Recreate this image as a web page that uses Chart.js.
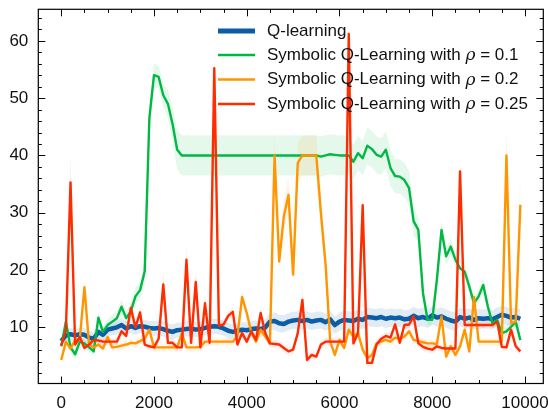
<!DOCTYPE html>
<html>
<head>
<meta charset="utf-8">
<script src="https://cdn.jsdelivr.net/npm/chart.js@4.4.1/dist/chart.umd.min.js"></script>
<style>
  html, body { margin: 0; padding: 0; background: #fff; }
  #wrap { width: 548px; height: 408px; }
</style>
</head>
<body>
<div id="wrap"><canvas id="chart" width="548" height="408"></canvas></div>
<script>
// Episodes on the x axis, one sample every 100
const steps = Array.from({ length: 100 }, (_, i) => i * 100);

const xTicks = [0, 2000, 4000, 6000, 8000, 10000];
const yTicks = [10, 20, 30, 40, 50, 60];

const seriesNames = [
    'Q-learning',
    'Symbolic Q-Learning with ',
    'Symbolic Q-Learning with ',
    'Symbolic Q-Learning with '
];
const rhoValues = ['', '0.1', '0.2', '0.25'];

// Q-learning
const qLearning = [
    7.6, 8.6, 8.8, 8.6, 8.8, 8.7, 8.2, 8.0, 9.2, 8.7,
    9.6, 9.8, 10.0, 10.4, 9.8, 10.2, 9.9, 10.2, 10.1, 9.9,
    9.8, 9.9, 9.7, 9.4, 9.2, 9.5, 9.6, 9.7, 9.8, 9.6,
    9.7, 9.9, 10.1, 10.2, 10.1, 9.8, 9.4, 9.2, 9.4, 9.6,
    9.5, 9.7, 9.8, 9.7, 10.0, 11.0, 11.1, 10.7, 10.6, 11.0,
    11.2, 11.3, 11.1, 11.3, 11.0, 11.2, 11.3, 10.9, 11.4, 10.4,
    11.0, 11.3, 11.2, 11.1, 11.5, 11.3, 11.8, 11.7, 11.6, 11.8,
    11.5, 11.7, 11.6, 11.7, 11.4, 11.5, 12.0, 11.6, 11.8, 11.5,
    12.1, 11.7, 11.9, 11.5, 11.2, 11.0, 11.8, 11.5, 11.7, 11.3,
    11.6, 11.5, 11.6, 11.4, 11.8, 12.2, 12.0, 11.7, 11.8, 11.5
];
const qLearningSpread = [
    1.0, 1.0, 1.1, 1.1, 1.1, 1.2, 1.2, 1.2, 1.2, 1.2,
    1.2, 1.2, 1.2, 1.2, 1.2, 1.2, 1.2, 1.2, 1.2, 1.2,
    1.3, 1.3, 1.3, 1.3, 1.3, 1.3, 1.3, 1.3, 1.3, 1.3,
    1.3, 1.3, 1.3, 1.3, 1.3, 1.3, 1.3, 1.3, 1.3, 1.3,
    1.4, 1.4, 1.4, 1.4, 1.4, 1.5, 1.5, 1.5, 1.5, 1.5,
    1.5, 1.5, 1.5, 1.5, 1.5, 1.5, 1.5, 1.5, 1.5, 1.5,
    1.6, 1.6, 1.6, 1.6, 1.6, 1.6, 1.6, 1.6, 1.6, 1.6,
    1.6, 1.6, 1.6, 1.6, 1.6, 1.6, 1.6, 1.6, 1.6, 1.6,
    1.6, 1.6, 1.6, 1.6, 1.6, 1.6, 1.6, 1.6, 1.6, 1.6,
    1.6, 1.6, 1.6, 1.6, 1.6, 1.6, 1.6, 1.6, 1.6, 1.6
];

// Symbolic, rho = 0.1
const symbolic01 = [
    6.7, 11.0, 6.5, 5.3, 7.5, 7.2, 6.5, 5.8, 11.7, 9.2,
    10.4, 11.0, 11.6, 13.6, 11.6, 12.8, 15.4, 16.5, 19.8, 46.5,
    54.0, 53.7, 50.5, 49.0, 45.5, 41.0, 40.0, 40.0, 40.0, 40.0,
    40.0, 40.0, 40.0, 40.0, 40.0, 40.0, 40.0, 40.0, 40.0, 40.0,
    40.0, 40.0, 40.0, 40.0, 40.0, 40.0, 40.0, 40.0, 40.0, 40.0,
    40.0, 40.0, 40.0, 40.0, 40.0, 40.0, 39.8, 40.0, 40.2, 40.1,
    40.0, 40.0, 40.0, 38.9, 40.4, 39.5, 41.7, 41.1, 40.1, 39.8,
    41.0, 37.8, 36.4, 36.3, 35.7, 34.3, 28.5, 27.0, 16.0, 11.3,
    11.3, 18.3, 27.0, 22.4, 24.1, 21.8, 20.3, 19.7, 17.1, 14.2,
    15.4, 17.4, 13.6, 10.7, 11.3, 9.0, 9.3, 10.1, 11.0, 7.8
];
const symbolic01Spread = [
    0.8, 1.5, 1.0, 1.0, 0.8, 0.8, 0.8, 0.8, 1.0, 1.0,
    1.0, 1.2, 1.2, 1.2, 1.2, 1.5, 1.5, 1.5, 2.0, 2.5,
    2.0, 2.0, 2.0, 2.5, 3.0, 3.5, 3.5, 3.5, 3.5, 3.5,
    3.5, 3.5, 3.5, 3.5, 3.5, 3.5, 3.5, 3.5, 3.5, 3.5,
    3.5, 3.5, 3.5, 3.5, 3.5, 3.5, 3.5, 3.5, 3.5, 3.5,
    3.5, 3.5, 3.5, 3.5, 3.5, 3.5, 3.5, 3.5, 3.5, 3.5,
    3.5, 3.5, 3.0, 3.0, 3.0, 3.0, 3.2, 3.2, 3.2, 3.2,
    3.2, 3.2, 3.0, 3.0, 3.0, 3.0, 2.5, 2.0, 1.5, 1.0,
    1.0, 1.5, 1.5, 1.5, 1.5, 1.2, 1.2, 1.2, 1.2, 1.2,
    1.2, 1.2, 1.2, 1.0, 1.0, 1.0, 1.0, 1.0, 1.0, 1.0
];

// Symbolic, rho = 0.2
const symbolic02 = [
    4.3, 7.5, 6.3, 7.8, 8.0, 17.0, 7.0, 6.5, 7.0, 6.3,
    8.3, 6.5, 6.6, 6.8, 7.0, 7.3, 7.2, 7.6, 8.0, 9.6,
    6.5, 6.5, 6.5, 6.5, 6.5, 6.5, 9.0, 6.5, 6.5, 6.5,
    6.6, 7.5, 7.5, 7.5, 7.5, 7.5, 7.5, 7.5, 8.5, 15.3,
    12.5, 9.1, 7.5, 9.6, 8.4, 7.2, 40.0, 21.5, 29.4, 33.1,
    19.2, 38.7, 40.0, 40.0, 40.0, 40.0, 29.9, 21.0, 7.5, 5.2,
    7.8, 6.4, 9.6, 8.4, 9.0, 6.1, 4.6, 5.2, 7.2, 7.5,
    7.8, 7.5, 8.2, 8.0, 8.4, 9.3, 7.8, 7.6, 7.4, 7.2,
    7.2, 7.1, 11.9, 4.9, 6.7, 5.2, 6.7, 9.6, 5.8, 15.3,
    7.5, 7.5, 7.5, 7.5, 7.5, 7.5, 40.0, 10.7, 11.0, 31.4
];
const symbolic02Spread = [
    0.7, 0.7, 0.7, 0.7, 0.7, 1.5, 0.7, 0.7, 0.7, 0.7,
    0.7, 0.7, 0.7, 0.7, 0.7, 0.7, 0.7, 0.7, 0.7, 1.0,
    0.7, 0.7, 0.7, 0.7, 0.7, 0.7, 0.7, 0.7, 0.7, 0.7,
    0.7, 0.7, 0.7, 0.7, 0.7, 0.7, 0.7, 0.7, 0.7, 1.2,
    0.8, 0.7, 0.7, 0.7, 0.7, 0.7, 4.0, 1.5, 3.0, 3.0,
    1.5, 3.5, 3.5, 3.5, 3.5, 3.5, 3.0, 2.0, 0.7, 0.7,
    0.7, 0.7, 0.7, 0.7, 0.7, 0.7, 0.7, 0.7, 0.7, 0.7,
    0.7, 0.7, 0.7, 0.7, 0.7, 0.7, 0.7, 0.7, 0.7, 0.7,
    0.7, 0.7, 1.0, 0.7, 0.7, 0.7, 0.7, 0.7, 0.7, 1.5,
    0.7, 0.7, 0.7, 0.7, 0.7, 0.7, 5.0, 0.8, 0.8, 6.0
];

// Symbolic, rho = 0.25
const symbolic025 = [
    6.8, 9.5, 35.3, 7.0, 8.3, 6.4, 7.0, 7.8, 7.7, 7.5,
    7.5, 7.5, 7.5, 9.3, 8.5, 13.4, 10.0, 12.6, 7.0, 6.7,
    6.5, 8.0, 17.5, 7.3, 7.3, 6.5, 6.5, 21.8, 7.3, 17.9,
    6.5, 14.2, 7.3, 55.2, 10.3, 10.5, 12.0, 12.7, 7.0, 9.0,
    7.5, 9.3, 7.8, 12.5, 9.0, 7.2, 7.1, 7.0, 6.4, 5.8,
    6.1, 9.0, 14.8, 4.3, 5.2, 4.9, 7.0, 7.5, 7.5, 7.5,
    7.5, 7.5, 61.2, 7.2, 9.0, 31.3, 3.8, 3.8, 7.0, 8.0,
    8.5, 8.2, 10.5, 7.3, 10.4, 10.5, 11.9, 7.2, 6.6, 6.3,
    6.1, 6.7, 6.4, 6.3, 6.3, 6.3, 37.2, 10.4, 10.4, 10.4,
    10.4, 10.4, 10.4, 10.4, 11.0, 6.6, 6.5, 9.6, 6.7, 5.8
];
const symbolic025Spread = [
    0.7, 0.8, 5.0, 0.7, 0.7, 0.7, 0.7, 0.7, 0.7, 0.7,
    0.7, 0.7, 0.7, 0.7, 0.7, 1.5, 0.8, 1.2, 0.7, 0.7,
    0.7, 0.7, 2.5, 0.7, 0.7, 0.7, 0.7, 2.5, 0.7, 2.0,
    0.7, 1.5, 0.7, 3.0, 0.8, 0.8, 0.8, 0.8, 0.7, 0.7,
    0.7, 0.7, 0.7, 1.0, 0.7, 0.7, 0.7, 0.7, 0.7, 0.7,
    0.7, 0.7, 2.0, 0.7, 0.7, 0.7, 0.7, 0.7, 0.7, 0.7,
    0.7, 0.7, 2.0, 0.7, 0.7, 2.5, 0.7, 0.7, 0.7, 0.7,
    0.7, 0.7, 0.8, 0.7, 0.7, 0.7, 0.8, 0.7, 0.7, 0.7,
    0.7, 0.7, 0.7, 0.7, 0.7, 0.7, 2.5, 0.7, 0.7, 0.7,
    0.7, 0.7, 0.7, 0.7, 0.7, 0.7, 0.7, 1.0, 0.7, 0.7
];

const FONT = '"Liberation Sans", Arial, Helvetica, sans-serif';

// colours of the "science" style cycle
const lineColors = ['#0C5DA5', '#00B945', '#FF9500', '#FF2C00'];
const bandColors = [
    'rgba(12, 93, 165, 0.12)',
    'rgba(0, 185, 69, 0.10)',
    'rgba(255, 149, 0, 0.10)',
    'rgba(255, 44, 0, 0.08)'
];
const lineWidths = [4.5, 2.4, 2.4, 2.4];

function toPoints(values) {
    return values.map((v, i) => ({ x: steps[i], y: v }));
}

function bandDatasets(values, spread, color, order) {
    const lower = values.map((v, i) => ({ x: steps[i], y: v - spread[i] }));
    const upper = values.map((v, i) => ({ x: steps[i], y: v + spread[i] }));
    return [
        { data: lower, borderWidth: 0, pointRadius: 0, fill: false, order: order },
        { data: upper, borderWidth: 0, pointRadius: 0, fill: '-1', backgroundColor: color, order: order }
    ];
}

const allSeries = [qLearning, symbolic01, symbolic02, symbolic025];
const allSpreads = [qLearningSpread, symbolic01Spread, symbolic02Spread, symbolic025Spread];

const datasets = [];
// bands go behind every line
allSeries.forEach((vals, k) => {
    datasets.push(...bandDatasets(vals, allSpreads[k], bandColors[k], 20 - k));
});
// lines: red drawn last (on top)
allSeries.forEach((vals, k) => {
    datasets.push({
        data: toPoints(vals),
        borderColor: lineColors[k],
        borderWidth: lineWidths[k],
        pointRadius: 0,
        fill: false,
        tension: 0,
        borderJoinStyle: 'round',
        order: 10 - k
    });
});

// Inward ticks on all four sides + frame
const sciAxes = {
    id: 'sciAxes',
    afterDraw(chart) {
        const { ctx, chartArea: a, scales: { x, y } } = chart;
        ctx.save();
        ctx.strokeStyle = '#000';
        ctx.lineWidth = 1;
        ctx.beginPath();
        const vTick = (v, len) => {
            const px = Math.round(x.getPixelForValue(v)) + 0.5;
            ctx.moveTo(px, a.bottom); ctx.lineTo(px, a.bottom - len);
            ctx.moveTo(px, a.top); ctx.lineTo(px, a.top + len);
        };
        const hTick = (v, len) => {
            const py = Math.round(y.getPixelForValue(v)) + 0.5;
            ctx.moveTo(a.left, py); ctx.lineTo(a.left + len, py);
            ctx.moveTo(a.right, py); ctx.lineTo(a.right - len, py);
        };
        xTicks.forEach(v => vTick(v, 7));
        for (let v = 0; v <= x.max; v += 500) {
            if (v >= x.min && v % 2000 !== 0) vTick(v, 3.5);
        }
        yTicks.forEach(v => hTick(v, 7));
        for (let v = 2; v <= y.max; v += 2) {
            if (v >= y.min && v % 10 !== 0) hTick(v, 3.5);
        }
        ctx.stroke();
        ctx.lineWidth = 1.2;
        ctx.strokeRect(a.left, a.top, a.right - a.left, a.bottom - a.top);
        ctx.restore();
    }
};

// Legend drawn by hand so that rho can be italic
const mathLegend = {
    id: 'mathLegend',
    afterDraw(chart) {
        const ctx = chart.ctx;
        const rows = [31, 55, 79.5, 104];
        ctx.save();
        ctx.textBaseline = 'middle';
        rows.forEach((ry, k) => {
            ctx.strokeStyle = lineColors[k];
            ctx.lineWidth = k === 0 ? 5 : 2.6;
            ctx.beginPath();
            ctx.moveTo(218, ry);
            ctx.lineTo(255, ry);
            ctx.stroke();

            ctx.fillStyle = '#111';
            ctx.font = '17px ' + FONT;
            let tx = 267;
            ctx.fillText(seriesNames[k], tx, ry);
            if (rhoValues[k]) {
                tx += ctx.measureText(seriesNames[k]).width;
                ctx.font = 'italic 17px "DejaVu Serif", serif';
                ctx.fillText('\u03C1', tx, ry + 1);
                tx += ctx.measureText('\u03C1').width;
                ctx.font = '17px ' + FONT;
                ctx.fillText(' = ' + rhoValues[k], tx, ry);
            }
        });
        ctx.restore();
    }
};

new Chart(document.getElementById('chart'), {
    type: 'line',
    data: { datasets: datasets },
    plugins: [sciAxes, mathLegend],
    options: {
        responsive: false,
        animation: false,
        layout: { padding: { top: 9.3, right: 4.7, left: 0, bottom: 0 } },
        plugins: {
            legend: { display: false },
            tooltip: { enabled: false },
            filler: { propagate: false }
        },
        scales: {
            x: {
                type: 'linear',
                min: -495,
                max: 10395,
                grid: { display: false, drawTicks: false },
                border: { display: false },
                ticks: {
                    color: '#111',
                    font: { family: FONT, size: 17 },
                    padding: 10,
                    autoSkip: false,
                    maxRotation: 0,
                    callback: v => String(v)
                },
                afterBuildTicks: s => { s.ticks = xTicks.map(v => ({ value: v })); },
                afterFit: s => { s.height = 24.5; s.paddingLeft = 0; s.paddingRight = 0; }
            },
            y: {
                min: 0.2,
                max: 65.5,
                grid: { display: false, drawTicks: false },
                border: { display: false },
                ticks: {
                    color: '#111',
                    font: { family: FONT, size: 17 },
                    padding: 10,
                    callback: v => String(v)
                },
                afterBuildTicks: s => { s.ticks = yTicks.map(v => ({ value: v })); },
                afterFit: s => { s.width = 38.3; s.paddingTop = 0; s.paddingBottom = 0; }
            }
        }
    }
});
</script>
</body>
</html>
